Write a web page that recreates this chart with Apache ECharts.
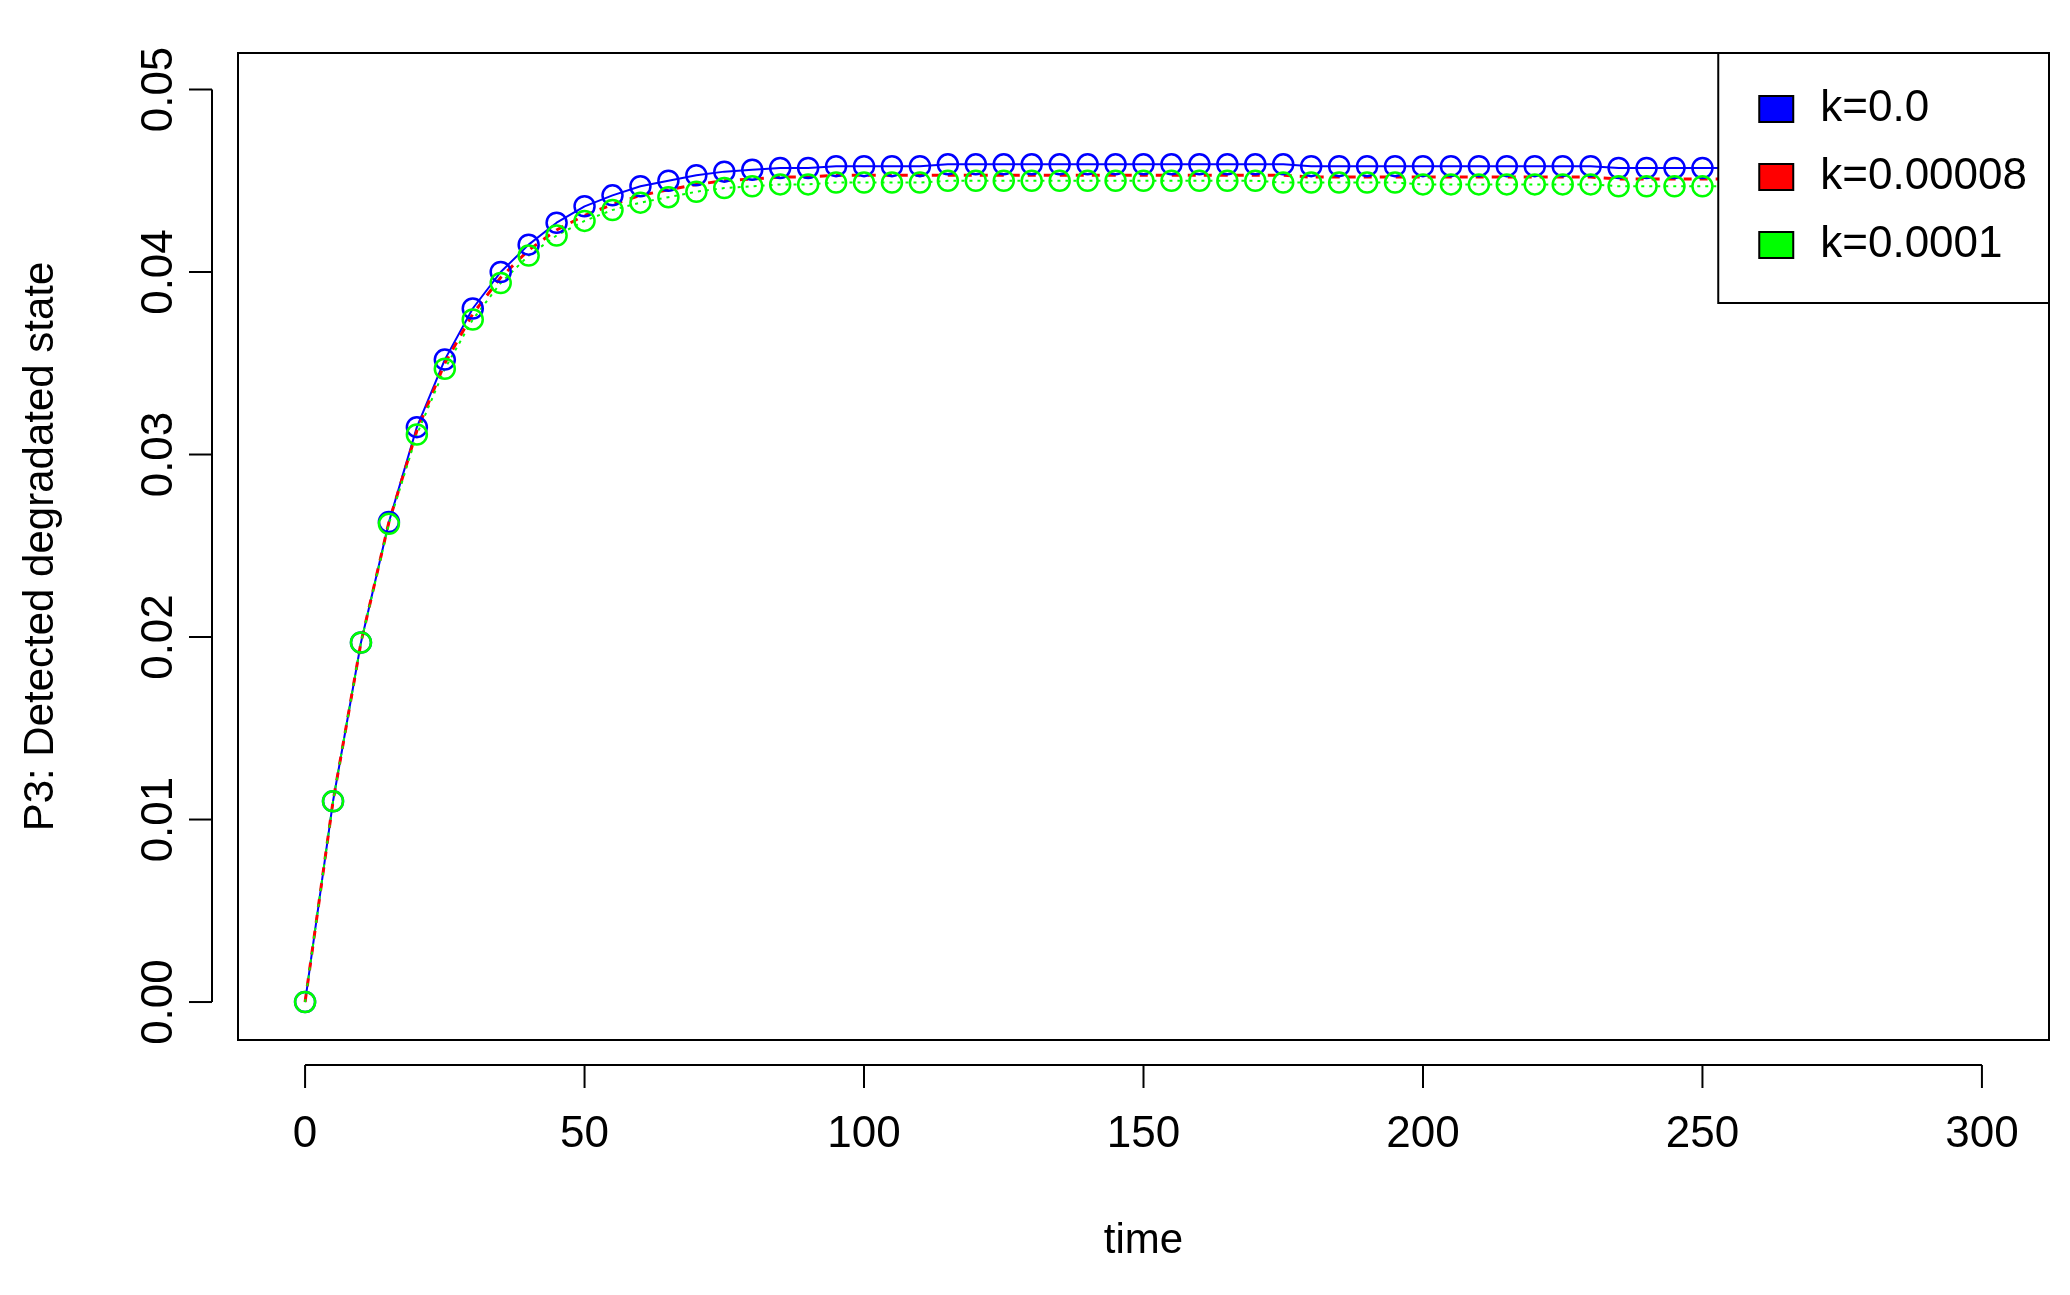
<!DOCTYPE html>
<html><head><meta charset="utf-8">
<script src="https://cdn.jsdelivr.net/npm/echarts@6/dist/echarts.min.js"></script>
<style>html,body{margin:0;padding:0;background:#fff}#c{width:2070px;height:1295px}</style>
</head><body><div id="c"></div>
<script>
const times = [0,5,10,15,20,25,30,35,40,45,50,55,60,65,70,75,80,85,90,95,100,105,110,115,120,125,130,135,140,145,150,155,160,165,170,175,180,185,190,195,200,205,210,215,220,225,230,235,240,245,250,255,260,265,270,275,280,285,290,295,300];
const k0 = [0,0.0110,0.0197,0.0263,0.0315,0.0352,0.0380,0.0400,0.0415,0.0427,0.0436,0.0442,0.0447,0.0450,0.0453,0.0455,0.0456,0.0457,0.0457,0.0458,0.0458,0.0458,0.0458,0.0459,0.0459,0.0459,0.0459,0.0459,0.0459,0.0459,0.0459,0.0459,0.0459,0.0459,0.0459,0.0459,0.0458,0.0458,0.0458,0.0458,0.0458,0.0458,0.0458,0.0458,0.0458,0.0458,0.0458,0.0457,0.0457,0.0457,0.0457,0.0457,0.0457,0.0457,0.0457,0.0456,0.0456,0.0456,0.0456,0.0456,0.0456];
const k8 = [0,0.0110,0.0197,0.0263,0.0313,0.0350,0.0377,0.0397,0.0412,0.0423,0.0431,0.0437,0.0442,0.0445,0.0448,0.0450,0.0451,0.0452,0.0452,0.0453,0.0453,0.0453,0.0453,0.0453,0.0453,0.0453,0.0453,0.0453,0.0453,0.0453,0.0453,0.0453,0.0453,0.0453,0.0453,0.0453,0.0452,0.0452,0.0452,0.0452,0.0452,0.0452,0.0452,0.0452,0.0452,0.0452,0.0452,0.0451,0.0451,0.0451,0.0451,0.0451,0.0451,0.0451,0.0451,0.0451,0.0451,0.0451,0.0451,0.0451,0.0451];
const k1 = [0,0.0110,0.0197,0.0262,0.0311,0.0347,0.0374,0.0394,0.0409,0.0420,0.0428,0.0434,0.0438,0.0441,0.0444,0.0446,0.0447,0.0448,0.0448,0.0449,0.0449,0.0449,0.0449,0.0450,0.0450,0.0450,0.0450,0.0450,0.0450,0.0450,0.0450,0.0450,0.0450,0.0450,0.0450,0.0449,0.0449,0.0449,0.0449,0.0449,0.0448,0.0448,0.0448,0.0448,0.0448,0.0448,0.0448,0.0447,0.0447,0.0447,0.0447,0.0447,0.0447,0.0447,0.0447,0.0446,0.0446,0.0446,0.0446,0.0446,0.0446];
const xTicks = [0,50,100,150,200,250,300];
const yTicks = [0,0.01,0.02,0.03,0.04,0.05];
const names = ['k=0.0','k=0.00008','k=0.0001'];
const pair = a => times.map((t,i)=>[t,a[i]]);
const F = 'Liberation Sans, Arial, sans-serif';
const chart = echarts.init(document.getElementById('c'));
chart.setOption({
  animation:false,
  grid:{left:238,right:21,top:53,bottom:255,show:true,borderColor:'#000',borderWidth:2,backgroundColor:'transparent'},
  xAxis:{type:'value',min:-12,max:312,offset:25,name:'time',nameLocation:'middle',nameGap:155,
    nameTextStyle:{fontSize:42,color:'#000',fontFamily:F},
    axisLine:{show:false},splitLine:{show:false},axisTick:{show:false},
    axisLabel:{fontSize:44,color:'#000',fontFamily:F,margin:48,customValues:xTicks}},
  yAxis:{type:'value',min:-0.00208,max:0.052,offset:26,name:'P3: Detected degradated state',nameLocation:'middle',nameGap:150,
    nameTextStyle:{fontSize:42,color:'#000',fontFamily:F},
    axisLine:{show:false},splitLine:{show:false},axisTick:{show:false},
    axisLabel:{fontSize:44,color:'#000',fontFamily:F,rotate:90,margin:30,customValues:yTicks,formatter:v=>v.toFixed(2)}},
  legend:{right:21,top:53,orient:'vertical',itemWidth:34,itemHeight:26,itemGap:24,
    padding:[34,22,36,40],backgroundColor:'#fff',borderColor:'#000',borderWidth:2,
    textStyle:{fontSize:44,color:'#000',fontFamily:F,padding:[0,0,0,22]},
    data:names.map((n,i)=>({name:n,icon:'rect',itemStyle:{color:['#0000ff','#ff0000','#00ff00'][i],borderColor:'#000',borderWidth:2}}))},
  series:[
    {name:names[0],type:'line',data:pair(k0),symbol:'circle',symbolSize:20,color:'#0000ff',
      lineStyle:{width:2,color:'#0000ff'},itemStyle:{color:'rgba(0,0,0,0)',borderColor:'#0000ff',borderWidth:2.5}},
    {name:names[1],type:'line',data:pair(k8),symbol:'none',color:'#ff0000',
      lineStyle:{width:3,type:[8,8],color:'#ff0000'}},
    {name:names[2],type:'line',data:pair(k1),symbol:'circle',symbolSize:20,color:'#00ff00',
      lineStyle:{width:2,type:[3,5],color:'#00ff00'},itemStyle:{color:'rgba(0,0,0,0)',borderColor:'#00ff00',borderWidth:2.5}}
  ]
});
const g = [];
const xs = xTicks.map(v=>chart.convertToPixel({gridIndex:0},[v,0])[0]);
const ys = yTicks.map(v=>chart.convertToPixel({gridIndex:0},[0,v])[1]);
g.push({type:'line',shape:{x1:xs[0],y1:1065,x2:xs[xs.length-1],y2:1065},style:{stroke:'#000',lineWidth:2}});
g.push({type:'line',shape:{x1:212,y1:ys[0],x2:212,y2:ys[ys.length-1]},style:{stroke:'#000',lineWidth:2}});
xs.forEach(x=>g.push({type:'line',shape:{x1:x,y1:1065,x2:x,y2:1088},style:{stroke:'#000',lineWidth:2}}));
ys.forEach(y=>g.push({type:'line',shape:{x1:212,y1:y,x2:189,y2:y},style:{stroke:'#000',lineWidth:2}}));
chart.setOption({graphic:g});
</script></body></html>
